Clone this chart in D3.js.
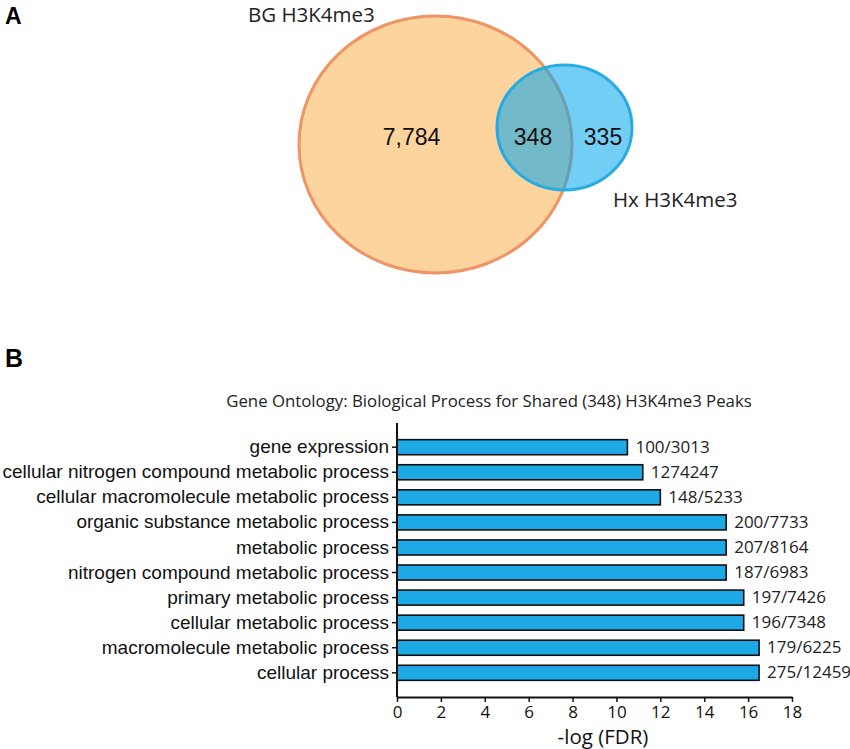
<!DOCTYPE html>
<html>
<head>
<meta charset="utf-8">
<script src="https://cdn.jsdelivr.net/npm/d3@7"></script>
<style>
  html, body { margin: 0; padding: 0; background: #fff; }
  svg { display: block; }
</style>
</head>
<body>
<svg id="chart" width="850" height="749"></svg>
<script>
// ---------- DATA ----------
const vennSets = ["BG H3K4me3", "Hx H3K4me3"];
const vennCounts = [7784, 348, 335]; // BG only, shared, Hx only

const chartTitle = "Gene Ontology: Biological Process for Shared (348) H3K4me3 Peaks";
const categories = [
  "gene expression",
  "cellular nitrogen compound metabolic process",
  "cellular macromolecule metabolic process",
  "organic substance metabolic process",
  "metabolic process",
  "nitrogen compound metabolic process",
  "primary metabolic process",
  "cellular metabolic process",
  "macromolecule metabolic process",
  "cellular process"
];
const negLogFDR = [10.5, 11.2, 12.0, 15.0, 15.0, 15.0, 15.8, 15.8, 16.5, 16.5];
const geneRatios = ["100/3013", "1274247", "148/5233", "200/7733", "207/8164",
                    "187/6983", "197/7426", "196/7348", "179/6225", "275/12459"];
const xTicks = [0, 2, 4, 6, 8, 10, 12, 14, 16, 18];
const xLabel = "-log (FDR)";

// ---------- DRAW ----------
const svg = d3.select("#chart");
const sans = "'Liberation Sans', Arial, sans-serif";
const myriad = "'Open Sans', sans-serif";

// Panel letters
svg.append("text").attr("x", 5).attr("y", 24)
  .style("font-family", sans).style("font-weight", "bold").style("font-size", "23px")
  .text("A");
svg.append("text").attr("x", 5).attr("y", 367)
  .style("font-family", sans).style("font-weight", "bold").style("font-size", "25px")
  .text("B");

// ---- Venn ----
const venn = svg.append("g");
const ellipses = [
  { cx: 435.5, cy: 144.5, rx: 136.5, ry: 128.5, fill: "#FDD39E", fillOpacity: 1, stroke: "#EF9464" },
  { cx: 564.5, cy: 127.5, rx: 67.5, ry: 62.5, fill: "rgb(0,166,238)", fillOpacity: 0.55, stroke: "#27ACE2" }
];
venn.selectAll("ellipse").data(ellipses).join("ellipse")
  .attr("cx", d => d.cx).attr("cy", d => d.cy)
  .attr("rx", d => d.rx).attr("ry", d => d.ry)
  .attr("fill", d => d.fill).attr("fill-opacity", d => d.fillOpacity)
  .attr("stroke", d => d.stroke).attr("stroke-width", 3);

const fmt = d3.format(",");
const countPos = [[411.5, 137], [533, 137], [603, 137]];
venn.selectAll("text.count").data(vennCounts).join("text")
  .attr("class", "count")
  .attr("x", (d, i) => countPos[i][0]).attr("y", (d, i) => countPos[i][1])
  .attr("text-anchor", "middle").attr("dominant-baseline", "central")
  .style("font-family", sans).style("font-size", "23px").style("fill", "#111")
  .text(d => fmt(d));

const setLabelPos = [[248, 22, "start"], [613, 207, "start"]];
venn.selectAll("text.setlabel").data(vennSets).join("text")
  .attr("class", "setlabel")
  .attr("x", (d, i) => setLabelPos[i][0]).attr("y", (d, i) => setLabelPos[i][1])
  .attr("text-anchor", (d, i) => setLabelPos[i][2])
  .style("font-family", myriad).style("font-size", "20.5px").style("fill", "#222")
  .text(d => d);

// ---- Bar chart ----
const x = d3.scaleLinear().domain([0, 18]).range([397, 792]);
const y = d3.scaleBand().domain(categories).range([423, 697])
  .paddingInner(0.4).paddingOuter(0.665);

svg.append("text")
  .attr("x", 489).attr("y", 406.5).attr("text-anchor", "middle")
  .style("font-family", myriad).style("font-size", "16.8px").style("fill", "#222")
  .text(chartTitle);

const bars = svg.append("g");
bars.selectAll("rect").data(categories).join("rect")
  .attr("x", x(0))
  .attr("y", d => y(d))
  .attr("width", (d, i) => x(negLogFDR[i]) - x(0))
  .attr("height", y.bandwidth())
  .attr("fill", "#1DA9E6")
  .attr("stroke", "#111").attr("stroke-width", 1.6);

bars.selectAll("text").data(categories).join("text")
  .attr("x", (d, i) => x(negLogFDR[i]) + 8)
  .attr("y", d => y(d) + y.bandwidth() / 2 - 1)
  .attr("dominant-baseline", "central")
  .style("font-family", myriad).style("font-size", "17px").style("fill", "#222")
  .text((d, i) => geneRatios[i]);

// y axis
const yAxis = svg.append("g").attr("transform", `translate(${x(0)},0)`)
  .call(d3.axisLeft(y).tickSize(5).tickPadding(3));
yAxis.select(".domain").attr("stroke", "#111").attr("stroke-width", 2)
  .attr("d", `M0,423V697`);
yAxis.selectAll(".tick line").attr("stroke", "#111").attr("stroke-width", 1.5);
yAxis.selectAll(".tick text")
  .style("font-family", sans).style("font-size", "19px").style("fill", "#111");

// x axis
const xAxis = svg.append("g").attr("transform", `translate(0,697)`)
  .call(d3.axisBottom(x).tickValues(xTicks).tickSize(5).tickPadding(4).tickSizeOuter(0));
xAxis.select(".domain").attr("stroke", "#111").attr("stroke-width", 2);
xAxis.selectAll(".tick line").attr("stroke", "#111").attr("stroke-width", 1.5);
xAxis.selectAll(".tick text")
  .style("font-family", myriad).style("font-size", "17px").style("fill", "#111");

svg.append("text")
  .attr("x", 603).attr("y", 744).attr("text-anchor", "middle")
  .style("font-family", myriad).style("font-size", "20.5px").style("fill", "#111")
  .text(xLabel);
</script>
</body>
</html>
